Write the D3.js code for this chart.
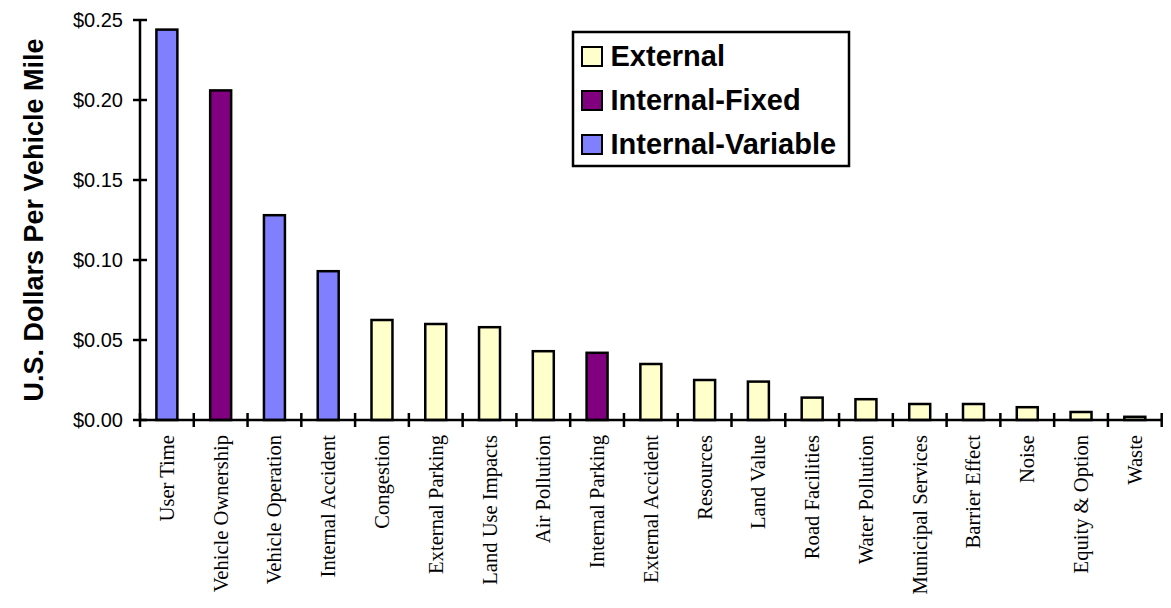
<!DOCTYPE html>
<html>
<head>
<meta charset="utf-8">
<script src="https://cdn.jsdelivr.net/npm/d3@7"></script>
<style>
  html, body { margin: 0; padding: 0; background: #fff; }
  svg { display: block; }
</style>
</head>
<body>
<svg id="chart" width="1171" height="608"></svg>
<script>
// Cost categories, ordered from largest to smallest
const categories = [
  "User Time", "Vehicle Ownership", "Vehicle Operation", "Internal Accident",
  "Congestion", "External Parking", "Land Use Impacts", "Air Pollution",
  "Internal Parking", "External Accident", "Resources", "Land Value",
  "Road Facilities", "Water Pollution", "Municipal Services", "Barrier Effect",
  "Noise", "Equity & Option", "Waste"
];
// Cost per vehicle mile (USD)
const costs = [
  0.244, 0.206, 0.128, 0.093,
  0.0625, 0.060, 0.058, 0.043,
  0.042, 0.035, 0.025, 0.024,
  0.014, 0.013, 0.010, 0.010,
  0.008, 0.005, 0.002
];
// Cost type of each category
const costTypes = [
  "Internal-Variable", "Internal-Fixed", "Internal-Variable", "Internal-Variable",
  "External", "External", "External", "External",
  "Internal-Fixed", "External", "External", "External",
  "External", "External", "External", "External",
  "External", "External", "External"
];
const legendTypes = ["External", "Internal-Fixed", "Internal-Variable"];
const typeColors = ["#FFFFCC", "#800080", "#8080FF"];
const yTicks = [0, 0.05, 0.10, 0.15, 0.20, 0.25];

(function () {
  const svg = d3.select("#chart");
  const plotLeft = 140, plotRight = 1161.7, plotTop = 20, plotBottom = 420;

  const color = d3.scaleOrdinal().domain(legendTypes).range(typeColors);

  const pad = 0.61;
  const x = d3.scaleBand()
    .domain(categories)
    .range([plotLeft, plotRight])
    .paddingInner(pad)
    .paddingOuter(pad / 2);

  const y = d3.scaleLinear().domain([0, 0.25]).range([plotBottom, plotTop]);

  const data = categories.map((c, i) => ({ name: c, value: costs[i], type: costTypes[i] }));

  // Bars
  svg.append("g")
    .selectAll("rect")
    .data(data)
    .join("rect")
    .attr("x", d => x(d.name))
    .attr("y", d => y(d.value))
    .attr("width", x.bandwidth())
    .attr("height", d => y(0) - y(d.value))
    .attr("fill", d => color(d.type))
    .attr("stroke", "#000")
    .attr("stroke-width", 2.5);

  // Y axis
  const yAxis = svg.append("g");
  yAxis.append("line")
    .attr("x1", plotLeft).attr("x2", plotLeft)
    .attr("y1", y(0.25)).attr("y2", y(0))
    .attr("stroke", "#000").attr("stroke-width", 2.5);
  yAxis.selectAll("line.tick")
    .data(yTicks)
    .join("line")
    .attr("class", "tick")
    .attr("x1", plotLeft - 7).attr("x2", plotLeft + 7)
    .attr("y1", d => y(d)).attr("y2", d => y(d))
    .attr("stroke", "#000").attr("stroke-width", 2.5);
  yAxis.selectAll("text")
    .data(yTicks)
    .join("text")
    .attr("x", 123)
    .attr("y", d => y(d))
    .attr("dy", "0.36em")
    .attr("text-anchor", "end")
    .attr("font-family", "'Liberation Sans', Arial, sans-serif")
    .attr("font-size", 20)
    .text(d => "$" + d3.format(".2f")(d));

  // Y axis title
  svg.append("text")
    .attr("transform", "translate(43,220) rotate(-90)")
    .attr("text-anchor", "middle")
    .attr("font-family", "'Liberation Sans', Arial, sans-serif")
    .attr("font-weight", "bold")
    .attr("font-size", 27)
    .text("U.S. Dollars Per Vehicle Mile");

  // X axis
  const xAxis = svg.append("g");
  xAxis.append("line")
    .attr("x1", plotLeft).attr("x2", plotRight)
    .attr("y1", y(0)).attr("y2", y(0))
    .attr("stroke", "#000").attr("stroke-width", 2.5);
  const boundaries = d3.range(categories.length + 1).map(i => x.range()[0] + i * x.step());
  xAxis.selectAll("line.tick")
    .data(boundaries)
    .join("line")
    .attr("class", "tick")
    .attr("x1", d => d).attr("x2", d => d)
    .attr("y1", y(0) - 7).attr("y2", y(0) + 7)
    .attr("stroke", "#000").attr("stroke-width", 2.5);
  xAxis.selectAll("text")
    .data(categories)
    .join("text")
    .attr("transform", d => `translate(${x(d) + x.bandwidth() / 2 + 7},435) rotate(-90)`)
    .attr("text-anchor", "end")
    .attr("font-family", "'Liberation Serif', 'Times New Roman', serif")
    .attr("font-size", 20.6)
    .text(d => d);

  // Legend
  const legend = svg.append("g");
  legend.append("rect")
    .attr("x", 573).attr("y", 32)
    .attr("width", 276).attr("height", 134)
    .attr("fill", "#fff")
    .attr("stroke", "#000").attr("stroke-width", 2.5);
  const rows = legend.selectAll("g.row")
    .data(legendTypes)
    .join("g")
    .attr("class", "row")
    .attr("transform", (d, i) => `translate(582,${47 + i * 44})`);
  rows.append("rect")
    .attr("width", 20).attr("height", 19)
    .attr("fill", d => color(d))
    .attr("stroke", "#000").attr("stroke-width", 2);
  rows.append("text")
    .attr("x", 28.5).attr("y", 19)
    .attr("font-family", "'Liberation Sans', Arial, sans-serif")
    .attr("font-weight", "bold")
    .attr("font-size", 29)
    .text(d => d);
})();
</script>
</body>
</html>
